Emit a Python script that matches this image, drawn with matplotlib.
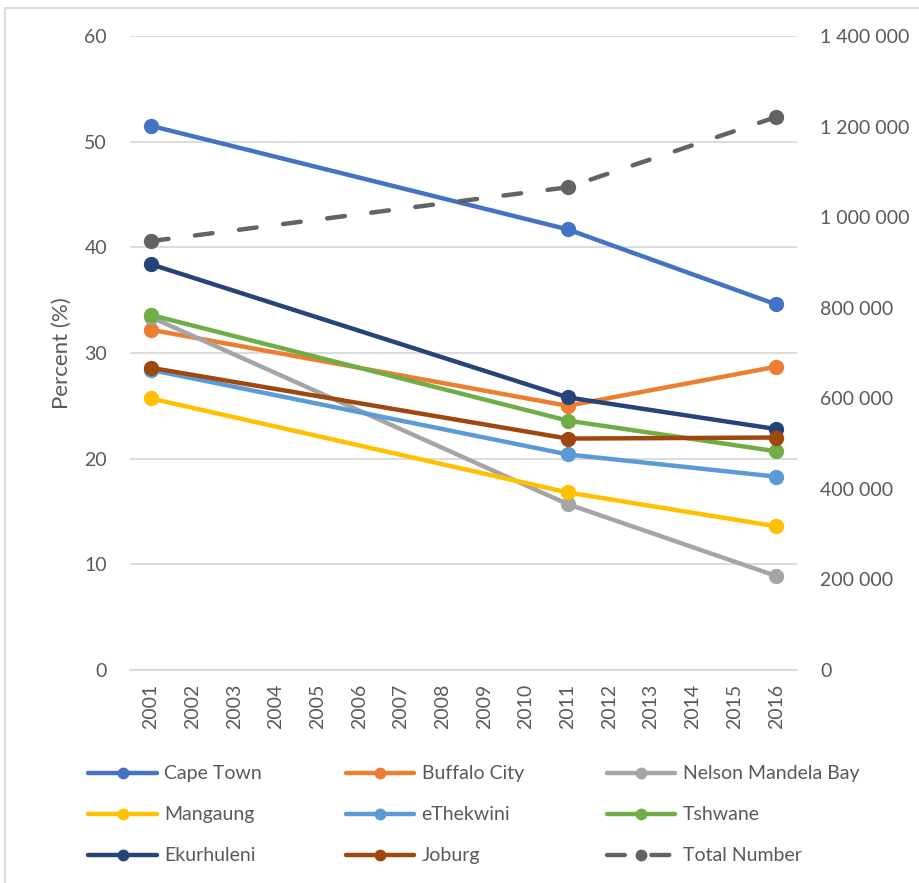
import matplotlib.pyplot as plt
from matplotlib.lines import Line2D
from matplotlib.ticker import FuncFormatter

plt.rcParams['font.family'] = ['Lato', 'DejaVu Sans']

years = [2001, 2011, 2016]
all_years = list(range(2001, 2017))

cape_town = [51.5, 41.7, 34.6]
buffalo_city = [32.2, 25.0, 28.7]
nelson_mandela_bay = [33.4, 15.7, 8.9]
mangaung = [25.7, 16.8, 13.6]
ethekwini = [28.4, 20.4, 18.3]
tshwane = [33.6, 23.6, 20.7]
ekurhuleni = [38.4, 25.8, 22.8]
joburg = [28.6, 21.9, 22.0]
total_number = [947000, 1066000, 1221000]

series = [
    ('Cape Town', cape_town, '#4472C4'),
    ('Buffalo City', buffalo_city, '#ED7D31'),
    ('Nelson Mandela Bay', nelson_mandela_bay, '#A5A5A5'),
    ('Mangaung', mangaung, '#FFC000'),
    ('eThekwini', ethekwini, '#5B9BD5'),
    ('Tshwane', tshwane, '#70AD47'),
    ('Ekurhuleni', ekurhuleni, '#264478'),
    ('Joburg', joburg, '#9E480E'),
]

text_col = '#595959'
grid_col = '#D9D9D9'

fig = plt.figure(figsize=(9.2, 8.83), dpi=100)
ax = fig.add_axes([130 / 920, 213 / 883, 667 / 920, 634 / 883])
ax2 = ax.twinx()

handles = {}
for name, vals, col in series:
    h, = ax.plot(years, vals, color=col, lw=3.2, marker='o', ms=10,
                 solid_capstyle='round', label=name, zorder=3)
    handles[name] = h

tot, = ax2.plot(years, total_number, color='#636363', lw=3.2, marker='o', ms=10,
                ls=(0, (4.0, 6.0)), dash_capstyle='round', label='Total Number')
handles['Total Number'] = tot

ax.set_xlim(2000.5, 2016.5)
ax.set_ylim(0, 60)
ax.set_yticks(range(0, 61, 10))
ax2.set_ylim(0, 1400000)
ax2.set_yticks(range(0, 1400001, 200000))
ax2.yaxis.set_major_formatter(FuncFormatter(lambda v, p: f'{int(v):,}'.replace(',', ' ')))
ax.set_xticks(all_years)
ax.set_xticklabels([str(y) for y in all_years], rotation=90)

ax.grid(axis='y', color=grid_col, lw=1.3)
ax.set_axisbelow(True)
for a in (ax, ax2):
    for s in a.spines.values():
        s.set_visible(False)
    a.tick_params(length=0, labelsize=14, colors=text_col)
ax.spines['bottom'].set_visible(True)
ax.spines['bottom'].set_color(grid_col)
ax.spines['bottom'].set_linewidth(1.3)
ax.tick_params(axis='y', pad=16.5)
ax.tick_params(axis='x', pad=10)
ax2.tick_params(axis='y', pad=16.5)
ax.set_ylabel('Percent (%)', fontsize=16, color=text_col, labelpad=9)

# legend filled row by row
order = ['Cape Town', 'Mangaung', 'Ekurhuleni',
         'Buffalo City', 'eThekwini', 'Joburg',
         'Nelson Mandela Bay', 'Tshwane', 'Total Number']
leg = fig.legend([handles[n] for n in order], order, ncol=3,
                 loc='upper left', bbox_to_anchor=(71 / 920, 1 - 748 / 883),
                 frameon=False, fontsize=14, handlelength=3.5, markerscale=0.75,
                 handletextpad=0.4, columnspacing=4.3, labelspacing=1.23)
for t in leg.get_texts():
    t.set_color(text_col)

# chart border
fig.add_artist(Line2D([5 / 920, 5 / 920], [0, 1 - 8 / 883], color=grid_col, lw=1.3))
fig.add_artist(Line2D([5 / 920, 1], [1 - 8 / 883, 1 - 8 / 883], color=grid_col, lw=1.3))

fig.savefig('out.png', dpi=100)
